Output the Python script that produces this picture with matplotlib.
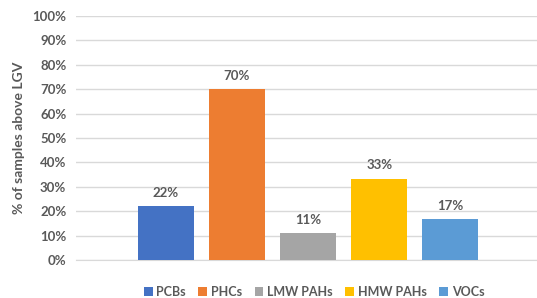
import matplotlib
matplotlib.use("Agg")
import matplotlib.pyplot as plt
from matplotlib.ticker import FuncFormatter

# data
groups = ["PCBs", "PHCs", "LMW PAHs", "HMW PAHs", "VOCs"]
values = [22.2, 70.0, 11.1, 33.3, 16.7]
labels = ["22%", "70%", "11%", "33%", "17%"]
colors = ["#4472c4", "#ed7d31", "#a5a5a5", "#ffc000", "#5b9bd5"]

txt = "#595959"
plt.rcParams['font.family'] = ['Lato', 'DejaVu Sans']

fig = plt.figure(figsize=(5.37, 2.98), dpi=100)
ax = fig.add_axes([76 / 537, 38 / 298, (537 - 76) / 537, 244 / 298])

x = list(range(len(groups)))
bars = ax.bar(x, values, width=0.79, color=colors, label=groups, zorder=3)
for b, lab in zip(bars, labels):
    ax.text(b.get_x() + b.get_width() / 2, b.get_height() + 3.0, lab,
            ha='center', va='bottom', fontsize=9.5, fontweight='bold', color=txt)

ax.set_xlim(-1.266, 5.22)
ax.set_ylim(0, 100)
ax.set_yticks(range(0, 101, 10))
ax.yaxis.set_major_formatter(FuncFormatter(lambda v, p: "%d%%" % v))
ax.set_xticks([])
ax.grid(axis='y', color='#d9d9d9', linewidth=1, zorder=0)
for s in ['top', 'right', 'left']:
    ax.spines[s].set_visible(False)
ax.spines['bottom'].set_color('#d9d9d9')
ax.tick_params(axis='y', length=0, pad=7, labelsize=9.5, labelcolor=txt)
for t in ax.get_yticklabels():
    t.set_fontweight('bold')
ax.set_ylabel('% of samples above LGV', fontsize=10, fontweight='bold',
              color=txt, labelpad=5)

leg = fig.legend(handles=bars, labels=groups, loc='center', ncol=5,
                 bbox_to_anchor=(314 / 537, 1 - 292 / 298), frameon=False,
                 fontsize=9, handlelength=0.7, handleheight=0.7,
                 handletextpad=0.3, columnspacing=1.0)
for t in leg.get_texts():
    t.set_color(txt)
    t.set_fontweight('bold')

fig.savefig("out.png", dpi=100)
